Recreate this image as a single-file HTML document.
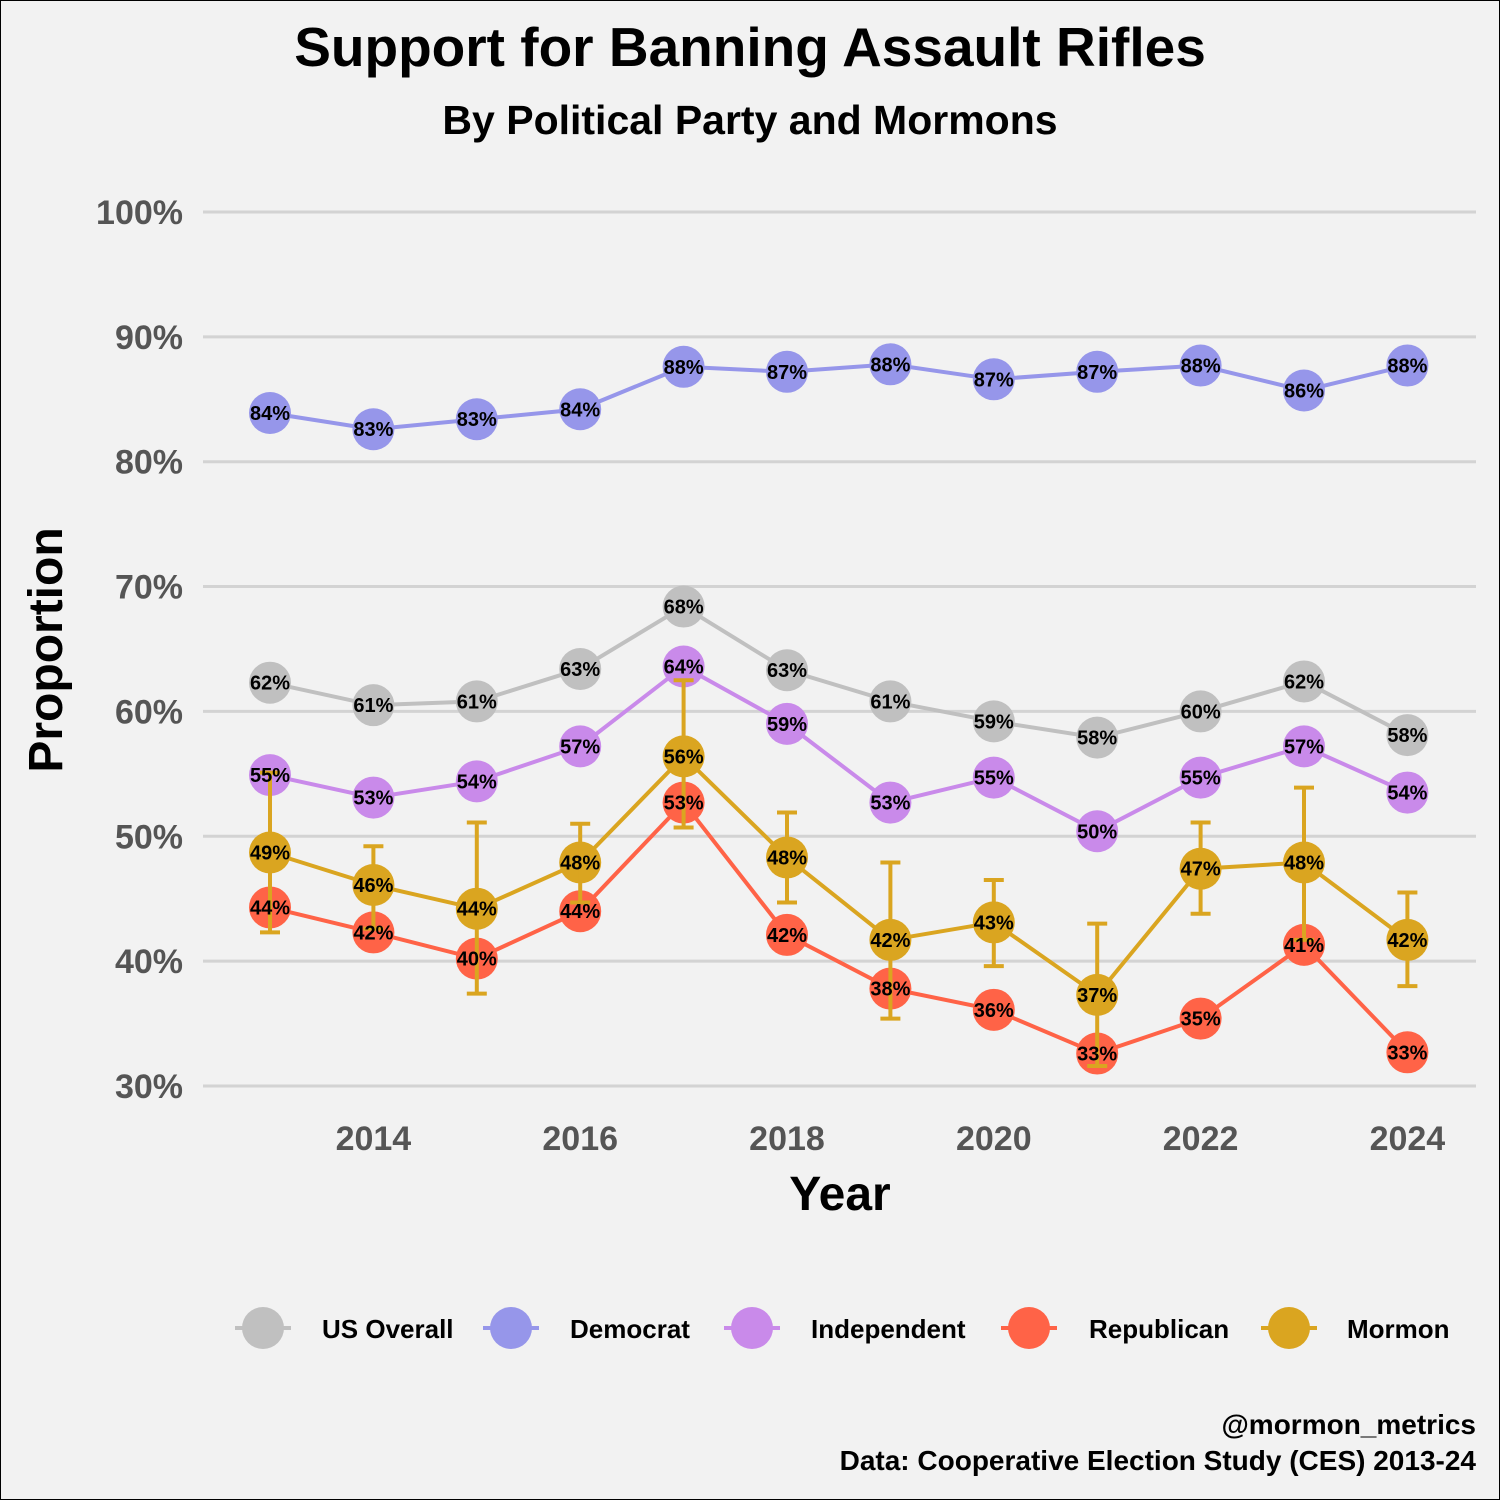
<!DOCTYPE html>
<html><head><meta charset="utf-8"><style>
body{margin:0;background:#f2f2f2}
svg{display:block}
text{font-family:"Liberation Sans",sans-serif}
</style></head><body>
<svg id="c" width="1500" height="1500" viewBox="0 0 1500 1500">
<rect x="0.5" y="0.5" width="1499" height="1499" fill="#f2f2f2" stroke="#000"/>
<text x="750" y="66" text-anchor="middle" font-size="55" font-weight="bold">Support for Banning Assault Rifles</text>
<text x="750" y="134" text-anchor="middle" font-size="41" font-weight="bold">By Political Party and Mormons</text>
<g id="grid"></g><g id="lines"></g><g id="pts"></g><g id="errs"></g><g id="labs"></g>
<text x="840" y="1210" text-anchor="middle" font-size="48" font-weight="bold">Year</text>
<text transform="translate(62,650) rotate(-90)" text-anchor="middle" font-size="48" font-weight="bold">Proportion</text>
<g id="legend"></g>
<text x="1476" y="1434" text-anchor="end" font-size="28" font-weight="bold">@mormon_metrics</text>
<text x="1476" y="1470" text-anchor="end" font-size="28" font-weight="bold">Data: Cooperative Election Study (CES) 2013-24</text>
</svg>
<script>
const years=[2013,2014,2015,2016,2017,2018,2019,2020,2021,2022,2023,2024];
const xTicks=[2014,2016,2018,2020,2022,2024];
const yTicks=[30,40,50,60,70,80,90,100];
const usOverall=[62.3,60.5,60.8,63.4,68.4,63.3,60.8,59.2,57.9,60.0,62.4,58.1];
const democrat=[83.9,82.6,83.4,84.2,87.6,87.2,87.8,86.6,87.2,87.7,85.7,87.7];
const independent=[54.9,53.1,54.4,57.2,63.6,59.0,52.7,54.7,50.4,54.7,57.2,53.5];
const republican=[44.3,42.3,40.2,44.0,52.7,42.1,37.8,36.1,32.6,35.4,41.3,32.7];
const mormon=[48.7,46.1,44.2,47.9,56.4,48.3,41.7,43.1,37.3,47.4,47.9,41.7];
const mormonHi=[55.1,49.2,51.1,51.0,62.5,51.9,47.9,46.5,43.0,51.1,53.9,45.5];
const mormonLo=[42.3,42.6,37.4,44.7,50.7,44.7,35.4,39.6,31.6,43.8,41.7,38.0];
const seriesNames=["US Overall","Democrat","Independent","Republican","Mormon"];
const seriesColors=["#c0c0c0","#9696ea","#c98aea","#ff6347","#daa520"];
const all=[usOverall,democrat,independent,republican,mormon];
const NS="http://www.w3.org/2000/svg";
const X=y=>270+(y-2013)*103.4;
const Y=v=>1086-(v-30)*12.486;
function mk(t,a,p){const e=document.createElementNS(NS,t);for(const k in a)e.setAttribute(k,a[k]);document.getElementById(p).appendChild(e);return e;}
yTicks.forEach(t=>{
 const l=mk('line',{x1:203,x2:1476,y1:Y(t),y2:Y(t),stroke:'#d3d3d3','stroke-width':3},'grid');
 
 
 const tx=mk('text',{x:183,y:Y(t)+12,'text-anchor':'end','font-size':34,'font-weight':'bold',fill:'#555'},'grid');
 tx.textContent=t+'%';
 
 
});
xTicks.forEach(t=>{
 const tx=mk('text',{x:X(t),y:1150,'text-anchor':'middle','font-size':34,'font-weight':'bold',fill:'#555'},'grid');
 tx.textContent=t;
 
 
});
all.forEach((s,i)=>{
 const c=seriesColors[i];
 const pl=mk('polyline',{points:s.map((v,j)=>X(years[j])+','+Y(v)).join(' '),fill:'none',stroke:c,'stroke-width':4},'lines');
 
 
 s.forEach((v,j)=>{
  const p=mk('circle',{cx:X(years[j]),cy:Y(v),r:21,fill:c},'pts');
  
  
  const t=mk('text',{x:X(years[j]),y:Y(v)+7,'text-anchor':'middle','font-size':20,'font-weight':'bold',fill:'#000'},'labs');
  t.textContent=Math.round(v)+'%';
  
  
 });
});
years.forEach((y,j)=>{
 const x=X(y),a=Y(mormonHi[j]),b=Y(mormonLo[j]);
 const g=mk('path',{d:`M${x},${a}V${b}M${x-10},${a}H${x+10}M${x-10},${b}H${x+10}`,stroke:'#daa520','stroke-width':4,fill:'none'},'errs');
 
 
});
const lx=[263,511,752,1029,1289],lt=[322,570,811,1089,1347];
seriesNames.forEach((n,i)=>{
 const g=mk('g',{},'legend');
 
 
 const l=document.createElementNS(NS,'line');
 l.setAttribute('x1',lx[i]-28);l.setAttribute('x2',lx[i]+28);l.setAttribute('y1',1328);l.setAttribute('y2',1328);
 l.setAttribute('stroke',seriesColors[i]);l.setAttribute('stroke-width',4);g.appendChild(l);
 const c=document.createElementNS(NS,'circle');
 c.setAttribute('cx',lx[i]);c.setAttribute('cy',1328);c.setAttribute('r',21);c.setAttribute('fill',seriesColors[i]);g.appendChild(c);
 const t=document.createElementNS(NS,'text');
 t.setAttribute('x',lt[i]);t.setAttribute('y',1338);t.setAttribute('font-size',26);t.setAttribute('font-weight','bold');
 t.textContent=n;g.appendChild(t);
});
</script>
</body></html>
